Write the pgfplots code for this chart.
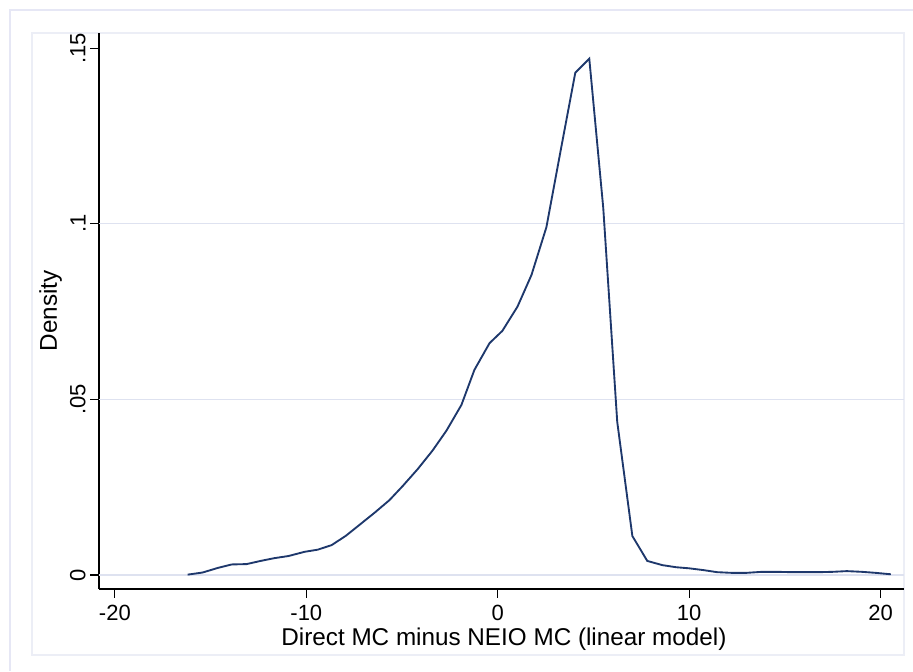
\documentclass[border=0pt]{standalone}
\usepackage{fontspec}
\setmainfont{Liberation Sans}
\usepackage{pgfplots}
\pgfplotsset{compat=1.18}

\definecolor{statanavy}{RGB}{30,56,108}
\definecolor{gridc}{RGB}{222,226,240}
\definecolor{framec}{RGB}{230,231,245}
\definecolor{innerc}{RGB}{236,238,246}

\pgfplotstableread{
x y
-16.20 0.0001
-15.42 0.0007
-14.63 0.0020
-13.90 0.0030
-13.12 0.0031
-12.39 0.0040
-11.66 0.0048
-10.93 0.0054
-10.09 0.0066
-9.41 0.0072
-8.68 0.0085
-7.95 0.0111
-7.17 0.0145
-6.44 0.0177
-5.66 0.0213
-4.97 0.0253
-4.19 0.0301
-3.41 0.0354
-2.68 0.0411
-1.90 0.0484
-1.22 0.0584
-0.43 0.0660
0.24 0.0695
1.03 0.0764
1.76 0.0854
2.54 0.0990
3.27 0.1204
4.05 0.1430
4.78 0.1470
5.51 0.1045
6.24 0.0436
7.03 0.0111
7.81 0.0040
8.60 0.0028
9.33 0.0022
10.00 0.0019
10.73 0.0014
11.46 0.0008
12.24 0.0006
12.97 0.0006
13.80 0.0009
14.58 0.0009
15.36 0.0008
16.04 0.0008
16.77 0.0008
17.50 0.0009
18.23 0.0011
19.02 0.0009
19.75 0.0006
20.53 0.0002
}\densitytable

\begin{document}
\begin{tikzpicture}
% page and frames (1px = 0.75pt)
\path[use as bounding box] (0,0) rectangle (684.75pt,503.25pt);
\draw[framec, line width=0.8pt] (7.5pt,0pt) -- (7.5pt,495.75pt) -- (684.75pt,495.75pt);
\draw[innerc, line width=0.8pt] (24pt,12pt) rectangle (678pt,478.5pt);
\begin{axis}[
    at={(74.25pt,61.5pt)}, anchor=south west,
    scale only axis,
    width=603.75pt, height=417pt,
    xmin=-20.83, xmax=21.22,
    ymin=-0.00399, ymax=0.1543,
    axis x line*=bottom, axis y line*=left,
    axis line style={line width=0.8pt, -},
    tick align=outside,
    major tick length=6.5pt,
    tick style={black, line width=0.8pt},
    xtick={-20,-10,0,10,20},
    ytick={0,0.05,0.1,0.15},
    yticklabels={0,.05,.1,.15},
    extra y ticks={0,0.05,0.1},
    extra y tick labels={},
    extra y tick style={grid=major, major tick length=0pt},
    grid style={gridc, line width=1pt},
    ticklabel style={font=\fontsize{16.5}{18}\selectfont},
    xticklabel style={yshift=-4.5pt, inner sep=1pt},
    yticklabel style={rotate=90, anchor=south},
    /pgf/number format/assume math mode=true,
    xlabel={Direct MC minus NEIO MC (linear model)},
    ylabel={Density},
    label style={font=\fontsize{18.2}{20}\selectfont},
    xlabel style={at={(axis description cs:0.503,0)}, anchor=base, yshift=-42.5pt, inner sep=1pt},
    ylabel style={at={(axis description cs:-0.0522,0.5)}, anchor=base},
    clip=false,
]
\addplot[statanavy, line width=1.4pt, mark=none] table[x=x, y=y] {\densitytable};
\end{axis}
\end{tikzpicture}
\end{document}
